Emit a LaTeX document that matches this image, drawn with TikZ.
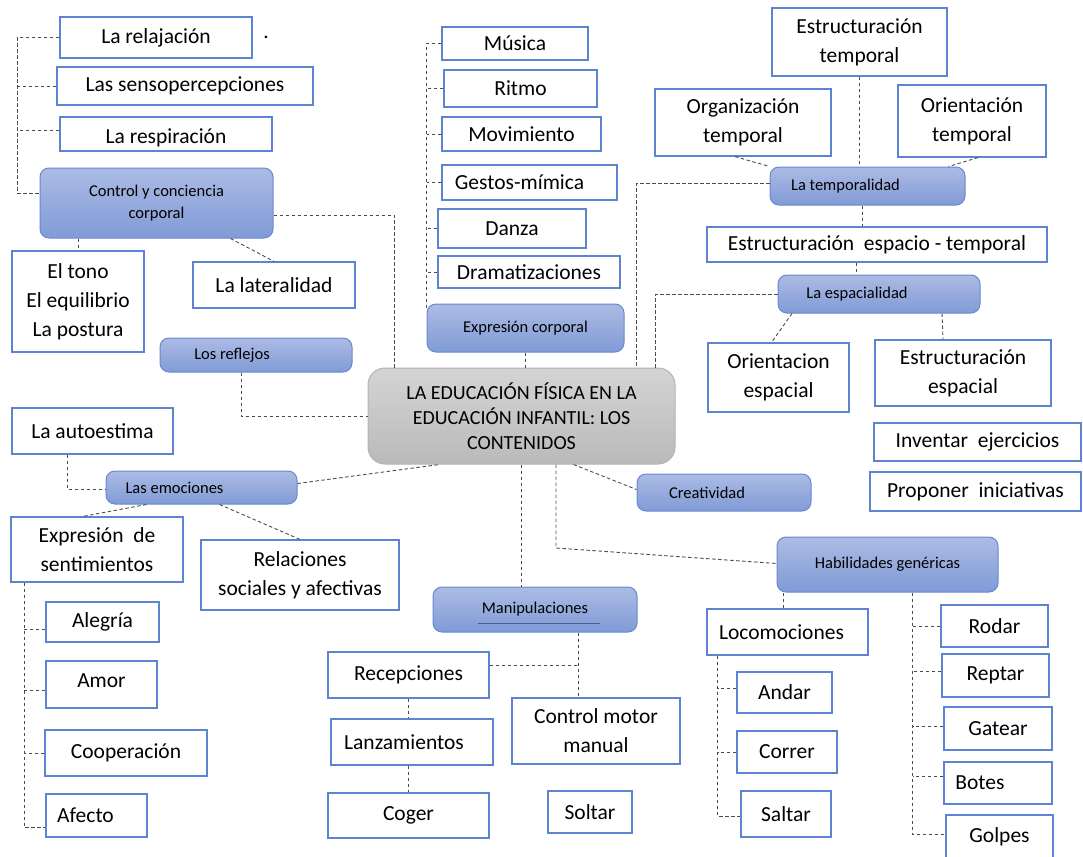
\documentclass[tikz,border=0pt]{standalone}
\usepackage{fontspec}
\setmainfont{Carlito}
\definecolor{boxline}{RGB}{92,132,210}
\definecolor{topicline}{RGB}{104,136,208}
\definecolor{topictop}{RGB}{172,187,228}
\definecolor{topicbottom}{RGB}{128,155,214}
\definecolor{maintop}{RGB}{212,212,212}
\definecolor{mainbottom}{RGB}{186,186,186}
\begin{document}
\begin{tikzpicture}[x=1pt,y=-1pt]
  \tikzset{boxtext/.style={font=\fontsize{21.5}{29}\selectfont},
    topictext/.style={font=\fontsize{16.5}{22}\selectfont},
    box/.style={draw=boxline,line width=1.2pt,fill=white,inner sep=0pt,align=center,boxtext},
    topic/.style={draw=topicline,line width=1pt,rounded corners=9pt,top color=topictop,bottom color=topicbottom,inner sep=0pt,align=center,topictext},
    link/.style={draw=black!70,line width=0.9pt,dash pattern=on 3.5pt off 2.5pt}}
  \useasboundingbox (0,0) rectangle (1083,856);

  \node[draw=black!30,line width=1pt,rounded corners=17pt,top color=maintop,bottom color=mainbottom,minimum width=307pt,minimum height=96pt,inner sep=0pt,align=center,font=\fontsize{20}{25}\selectfont] at (521.5,416) (main) {LA EDUCACIÓN FÍSICA EN LA\\EDUCACIÓN INFANTIL: LOS\\CONTENIDOS};

  \node[box,minimum width=192pt,minimum height=41pt] at (156,37.5) (relaj) {La relajación};
  \node[boxtext] at (266,37) (dot) {.};
  \node[box,minimum width=256pt,minimum height=38pt] at (185,86) (sensop) {Las sensopercepciones};
  \node[box,minimum width=212pt,minimum height=34pt,label={[boxtext,yshift=-4pt]center:La respiración}] at (166,134) (resp) {};
  \node[topic,minimum width=233pt,minimum height=70pt] at (156.5,203) (control) {Control y conciencia\\corporal};
  \node[box,minimum width=132pt,minimum height=101pt] at (78,301.5) (tono) {El tono\\El equilibrio\\La postura};
  \node[box,minimum width=162pt,minimum height=46pt] at (274,285) (lateral) {La lateralidad};
  \node[topic,minimum width=192pt,minimum height=34pt,label={[topictext,xshift=-24pt]center:Los reflejos}] at (256,355) (reflejos) {};

  \node[box,minimum width=161pt,minimum height=46pt] at (92.5,431) (autoest) {La autoestima};
  \node[topic,minimum width=191pt,minimum height=33pt,label={[topictext,xshift=-27pt]center:Las emociones}] at (201.5,487.5) (emoc) {};
  \node[box,minimum width=172pt,minimum height=65pt] at (97,549.5) (exsent) {Expresión \ de\\sentimientos};
  \node[box,minimum width=198pt,minimum height=70pt] at (300,575) (relsoc) {Relaciones\\sociales y afectivas};
  \node[box,minimum width=113pt,minimum height=40pt] at (102.5,622) (alegria) {Alegría};
  \node[box,minimum width=111pt,minimum height=47pt,label={[boxtext,yshift=4pt]center:Amor}] at (101.5,684.5) (amor) {};
  \node[box,minimum width=162pt,minimum height=46pt] at (126,753) (coop) {Cooperación};
  \node[box,minimum width=101pt,minimum height=43pt,label={[boxtext,xshift=-11pt]center:Afecto}] at (96.5,815.5) (afecto) {};

  \node[box,minimum width=146pt,minimum height=33pt] at (515,43.5) (musica) {Música};
  \node[box,minimum width=153pt,minimum height=37pt] at (520.5,88.5) (ritmo) {Ritmo};
  \node[box,minimum width=159pt,minimum height=34pt] at (521.5,134) (movim) {Movimiento};
  \node[box,minimum width=175pt,minimum height=35pt,label={[boxtext,xshift=-10pt]center:Gestos-mímica}] at (529.5,182.5) (gestos) {};
  \node[box,minimum width=148pt,minimum height=39pt] at (512,228.5) (danza) {Danza};
  \node[box,minimum width=182pt,minimum height=32pt] at (529,272) (dramat) {Dramatizaciones};
  \node[topic,minimum width=197pt,minimum height=48pt] at (525.5,328) (expcorp) {Expresión corporal};

  \node[box,minimum width=175pt,minimum height=68pt] at (859.5,42) (esttemp) {Estructuración\\temporal};
  \node[box,minimum width=176pt,minimum height=67pt] at (743,122.5) (orgtemp) {Organización\\temporal};
  \node[box,minimum width=148pt,minimum height=72pt] at (972,121) (oritemp) {Orientación\\temporal};
  \node[topic,minimum width=195pt,minimum height=38pt,label={[topictext,xshift=-22pt]center:La temporalidad}] at (867.5,186) (temp) {};
  \node[box,minimum width=340pt,minimum height=35pt] at (877,244.5) (estespt) {Estructuración \ espacio - temporal};
  \node[topic,minimum width=202pt,minimum height=38pt,label={[topictext,xshift=-22pt]center:La espacialidad}] at (879,294) (espac) {};
  \node[box,minimum width=141pt,minimum height=69pt] at (778.5,377.5) (oriesp) {Orientacion\\espacial};
  \node[box,minimum width=176pt,minimum height=66pt] at (963,373) (estesp) {Estructuración\\espacial};
  \node[box,minimum width=207pt,minimum height=38pt] at (977.5,442) (inventar) {Inventar \ ejercicios};
  \node[box,minimum width=211pt,minimum height=39pt] at (975.5,491.5) (proponer) {Proponer \ iniciativas};
  \node[topic,minimum width=174pt,minimum height=37pt,label={[topictext,xshift=-17pt]center:Creatividad}] at (724,492.5) (creat) {};

  \node[topic,minimum width=204pt,minimum height=45pt] at (535,609.5) (manip) {Manipulaciones};
  \draw[topicline!70!black,line width=0.6pt] ([xshift=-57pt,yshift=-13.5pt]manip.center) -- ([xshift=65pt,yshift=-13.5pt]manip.center);
  \node[box,minimum width=161pt,minimum height=46pt] at (408.5,675) (recep) {Recepciones};
  \node[box,minimum width=162pt,minimum height=46pt,label={[boxtext,xshift=-8pt]center:Lanzamientos}] at (412,742) (lanz) {};
  \node[box,minimum width=161pt,minimum height=45pt] at (408.5,815.5) (coger) {Coger};
  \node[box,minimum width=168pt,minimum height=66pt] at (596,731) (cmm) {Control motor\\manual};
  \node[box,minimum width=84pt,minimum height=42pt] at (590,812) (soltar) {Soltar};

  \node[topic,minimum width=221pt,minimum height=55pt] at (887.5,564.5) (habil) {Habilidades genéricas};
  \node[box,minimum width=161pt,minimum height=46pt,label={[boxtext,xshift=-6pt]center:Locomociones}] at (787.5,632) (locom) {};
  \node[box,minimum width=95pt,minimum height=41pt] at (784.5,692.5) (andar) {Andar};
  \node[box,minimum width=100pt,minimum height=42pt] at (787,752) (correr) {Correr};
  \node[box,minimum width=90pt,minimum height=46pt] at (786,814) (saltar) {Saltar};
  \node[box,minimum width=107pt,minimum height=42pt] at (994.5,626) (rodar) {Rodar};
  \node[box,minimum width=107pt,minimum height=43pt] at (995.5,675.5) (reptar) {Reptar};
  \node[box,minimum width=108pt,minimum height=43pt] at (998,728.5) (gatear) {Gatear};
  \node[box,minimum width=108pt,minimum height=42pt,label={[boxtext,xshift=-18pt]center:Botes}] at (998,783) (botes) {};
  \node[box,minimum width=107pt,minimum height=43pt] at (999.5,836.5) (golpes) {Golpes};

  \coordinate (cbus) at (17,35);
  \draw[link] (relaj.west) -- (relaj.west -| cbus) |- ([yshift=10pt]control.west);
  \draw[link] (sensop.west) -- (sensop.west -| cbus);
  \draw[link] ([yshift=4pt]resp.west) -- ([yshift=4pt]resp.west -| cbus);
  \draw[link] (control.south -| tono) -- (tono.north);
  \draw[link] ([xshift=74pt]control.south) -- (lateral.north);
  \draw[link] ([yshift=-12pt]control.east) -| ([xshift=-127pt]main.north);
  \draw[link] ([xshift=-15pt]reflejos.south) |- (main.west);

  \draw[link] ([xshift=-25pt]autoest.south) |- ([yshift=-2pt]emoc.west);
  \draw[link] ([yshift=4pt]emoc.east) -- ([xshift=-82pt]main.south);
  \draw[link] ([xshift=-55pt]emoc.south) -- ([xshift=-14pt]exsent.north);
  \draw[link] ([xshift=18pt]emoc.south) -- (relsoc.north);
  \coordinate (ebus) at (24,585);
  \draw[link] (exsent.south -| ebus) |- ([yshift=-12pt]afecto.west);
  \draw[link] ([yshift=-7pt]alegria.west) -- ([yshift=-7pt]alegria.west -| ebus);
  \draw[link] ([yshift=-6pt]amor.west) -- ([yshift=-6pt]amor.west -| ebus);
  \draw[link] (coop.west) -- (coop.west -| ebus);

  \draw[link] (musica.west) -| ([yshift=-6pt]expcorp.north west);
  \foreach \n in {ritmo,movim,gestos,danza,dramat}
    \draw[link] (\n.west) -- (\n.west -| expcorp.west);
  \draw[link] (expcorp.south) -- (expcorp.south |- main.north);

  \draw[link] (esttemp.south) -- (esttemp.south |- temp.north);
  \draw[link] ([xshift=-8pt]orgtemp.south) -- (temp.north west);
  \draw[link] ([xshift=6pt]oritemp.south) -- ([xshift=-17pt]temp.north east);
  \draw[link] ([yshift=3pt]temp.west) -| ([xshift=115pt]main.north);
  \draw[link] ([xshift=-5pt]temp.south) -- ([xshift=-5pt]temp.south |- estespt.north);
  \draw[link] ([xshift=-21pt]estespt.south) -- ([xshift=-21pt]estespt.south |- espac.north);
  \draw[link] (espac.west) -| ([xshift=134pt]main.north);
  \draw[link] ([xshift=-87pt]espac.south) -- ([xshift=-7pt]oriesp.north);
  \draw[link] ([xshift=63pt]espac.south) -- ([xshift=-20pt]estesp.north);
  \draw[link] ([xshift=52pt]main.south) -- ([yshift=3pt]creat.west);

  \draw[link] (main.south) -- (main.south |- manip.north);
  \coordinate (hbend) at (556,548);
  \draw[link] (main.south -| hbend) -- (hbend) -- ([yshift=1pt]habil.west);
  \coordinate (mbus) at ([xshift=43pt]manip.south);
  \draw[link] (mbus) -- (mbus |- cmm.north);
  \draw[link] ([yshift=10pt]recep.east) -- ([yshift=10pt]recep.east -| mbus);
  \draw[link] (recep.south) -- (recep.south |- lanz.north);
  \draw[link] (lanz.south -| coger) -- (coger.north);

  \draw[link] ([xshift=-104pt]habil.south) -- ([xshift=-104pt]habil.south |- locom.north);
  \coordinate (lbus) at ([xshift=-70pt]locom.south);
  \draw[link] (lbus) |- ([yshift=-2pt]saltar.west);
  \draw[link] ([yshift=4pt]andar.west) -- ([yshift=4pt]andar.west -| lbus);
  \draw[link] (correr.west) -- (correr.west -| lbus);
  \coordinate (hbus) at ([xshift=25pt]habil.south);
  \draw[link] (hbus) |- ([yshift=2pt]golpes.west);
  \foreach \n/\s in {rodar/0pt,reptar/4pt,gatear/2pt,botes/7pt}
    \draw[link] ([yshift=\s]\n.west) -- ([yshift=\s]\n.west -| hbus);
\end{tikzpicture}
\end{document}
